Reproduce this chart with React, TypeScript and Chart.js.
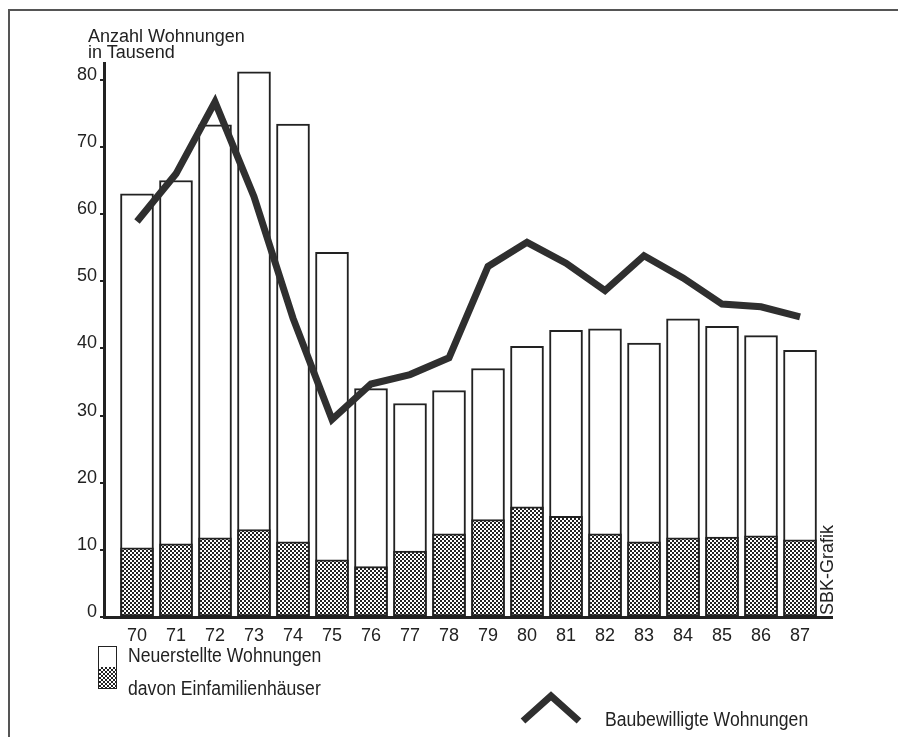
import React, { useEffect, useRef } from "react";
import { Chart, registerables } from "chart.js";

Chart.register(...registerables);

// ---- data ----
const YEARS = [70, 71, 72, 73, 74, 75, 76, 77, 78, 79, 80, 81, 82, 83, 84, 85, 86, 87];
const YEAR_LABELS = ["70", "71", "72", "73", "74", "75", "76", "77", "78", "79", "80", "81", "82", "83", "84", "85", "86", "87"];
const Y_TICKS = [0, 10, 20, 30, 40, 50, 60, 70, 80];
// Neuerstellte Wohnungen (Tausend)
const NEUERSTELLT = [63.0, 65.0, 73.3, 81.2, 73.4, 54.3, 34.0, 31.8, 33.7, 37.0, 40.3, 42.7, 42.9, 40.8, 44.4, 43.3, 41.9, 39.7];
// davon Einfamilienhäuser (Tausend)
const EINFAMILIEN = [10.3, 10.9, 11.8, 13.0, 11.2, 8.5, 7.5, 9.8, 12.4, 14.5, 16.4, 15.0, 12.4, 11.2, 11.8, 11.9, 12.1, 11.5];
// Baubewilligte Wohnungen (Tausend)
const BAUBEWILLIGT = [58.9, 66.0, 76.7, 62.6, 44.5, 29.4, 34.7, 36.1, 38.6, 52.2, 55.8, 52.7, 48.6, 53.8, 50.5, 46.6, 46.2, 44.7];

const INK = "#222222";
const FONT = "'Liberation Sans', Arial, sans-serif";
const HATCH_CSS = "repeating-conic-gradient(#222 0 25%, #fff 0 50%) 0 0 / 4px 4px";

function makePattern(ctx: CanvasRenderingContext2D): CanvasPattern | string {
  const pc = document.createElement("canvas");
  pc.width = 4;
  pc.height = 4;
  const g = pc.getContext("2d");
  if (!g) return "#777";
  g.fillStyle = "#ffffff";
  g.fillRect(0, 0, 4, 4);
  g.fillStyle = "#222222";
  g.fillRect(0, 0, 2, 2);
  g.fillRect(2, 2, 2, 2);
  return ctx.createPattern(pc, "repeat") || "#777";
}

const legendText: React.CSSProperties = {
  position: "absolute",
  fontFamily: FONT,
  fontSize: 20,
  lineHeight: "24px",
  whiteSpace: "nowrap",
  transform: "scaleX(0.88)",
  transformOrigin: "0 50%",
};

export default function App() {
  const canvasRef = useRef<HTMLCanvasElement | null>(null);

  useEffect(() => {
    const canvas = canvasRef.current;
    if (!canvas) return;
    const ctx = canvas.getContext("2d");
    if (!ctx) return;
    const hatch = makePattern(ctx);

    const chart = new Chart(ctx, {
      type: "bar",
      data: {
        datasets: [
          {
            type: "line",
            label: "Baubewilligte Wohnungen",
            data: YEARS.map((x, i) => ({ x, y: BAUBEWILLIGT[i] })),
            borderColor: "#2f2f2f",
            borderWidth: 7,
            pointRadius: 0,
            tension: 0,
            borderJoinStyle: "miter",
            borderCapStyle: "butt",
            order: 0,
          } as any,
          {
            type: "bar",
            label: "davon Einfamilienhäuser",
            data: YEARS.map((x, i) => ({ x, y: EINFAMILIEN[i] })),
            backgroundColor: hatch as any,
            borderColor: INK,
            borderWidth: 2,
            borderSkipped: false,
            barThickness: 33,
            grouped: false,
            order: 1,
          } as any,
          {
            type: "bar",
            label: "Neuerstellte Wohnungen",
            data: YEARS.map((x, i) => ({ x, y: NEUERSTELLT[i] })),
            backgroundColor: "#ffffff",
            borderColor: INK,
            borderWidth: 2,
            borderSkipped: false,
            barThickness: 33,
            grouped: false,
            order: 2,
          } as any,
        ],
      },
      options: {
        animation: false,
        responsive: false,
        maintainAspectRatio: false,
        layout: { padding: { left: 0, top: 63, right: 66, bottom: 0 } },
        plugins: {
          legend: { display: false },
          tooltip: { enabled: false },
        },
        scales: {
          x: {
            type: "linear",
            min: 69.154,
            max: 87.82,
            offset: false,
            afterBuildTicks: (axis: any) => {
              axis.ticks = YEARS.map((v) => ({ value: v }));
            },
            afterFit: (axis: any) => {
              axis.height = 120;
            },
            ticks: {
              autoSkip: false,
              maxRotation: 0,
              padding: 8,
              color: INK,
              font: { family: FONT, size: 18 },
              callback: (v: any) => {
                const i = YEARS.indexOf(Number(v));
                return i >= 0 ? YEAR_LABELS[i] : "";
              },
            },
            grid: { display: false, drawTicks: false },
            border: { display: true, color: INK, width: 3 },
          },
          y: {
            type: "linear",
            min: 0,
            max: 82.5,
            afterBuildTicks: (axis: any) => {
              axis.ticks = Y_TICKS.map((v) => ({ value: v }));
            },
            afterFit: (axis: any) => {
              axis.width = 104;
            },
            ticks: {
              padding: 3,
              labelOffset: -5,
              color: INK,
              font: { family: FONT, size: 18 },
              callback: (v: any) => String(v),
            },
            grid: {
              drawOnChartArea: false,
              drawTicks: true,
              tickLength: 4,
              color: INK,
              lineWidth: 2,
            },
            border: { display: true, color: INK, width: 3 },
          },
        },
      } as any,
    });

    return () => {
      chart.destroy();
    };
  }, []);

  return (
    <div
      style={{
        position: "absolute",
        left: 0,
        top: 0,
        width: 898,
        height: 737,
        background: "#fff",
        overflow: "hidden",
        fontFamily: FONT,
        color: INK,
      }}
    >
      {/* frame */}
      <div
        style={{
          position: "absolute",
          left: 8,
          top: 9,
          width: 900,
          height: 740,
          borderTop: "2px solid #555",
          borderLeft: "2px solid #555",
        }}
      />
      <canvas
        ref={canvasRef}
        width={898}
        height={737}
        style={{ position: "absolute", left: 0, top: 0, width: 898, height: 737 }}
      />
      {/* axis title */}
      <div
        style={{
          position: "absolute",
          left: 88,
          top: 28,
          fontSize: 18,
          lineHeight: "16px",
          whiteSpace: "nowrap",
        }}
      >
        Anzahl Wohnungen
        <br />
        in Tausend
      </div>
      {/* credit */}
      <div
        style={{
          position: "absolute",
          left: 827,
          top: 570,
          fontSize: 18,
          lineHeight: "18px",
          whiteSpace: "nowrap",
          transform: "translate(-50%, -50%) rotate(-90deg)",
        }}
      >
        SBK-Grafik
      </div>
      {/* legend */}
      <div
        style={{
          position: "absolute",
          left: 98,
          top: 646,
          width: 17,
          height: 20,
          border: "1.5px solid #222",
          borderBottom: "none",
          background: "#fff",
        }}
      />
      <div
        style={{
          position: "absolute",
          left: 98,
          top: 667,
          width: 17,
          height: 21,
          border: "1.5px solid #222",
          borderTop: "none",
          background: HATCH_CSS,
        }}
      />
      <div style={{ ...legendText, left: 128, top: 643 }}>Neuerstellte Wohnungen</div>
      <div style={{ ...legendText, left: 128, top: 676 }}>davon Einfamilienhäuser</div>
      <svg
        style={{ position: "absolute", left: 518, top: 690, overflow: "visible" }}
        width={66}
        height={36}
      >
        <polyline
          points="5,31 33,6 61,31"
          fill="none"
          stroke="#2f2f2f"
          strokeWidth={7}
          strokeLinejoin="miter"
          strokeLinecap="butt"
        />
      </svg>
      <div style={{ ...legendText, left: 605, top: 707 }}>Baubewilligte Wohnungen</div>
    </div>
  );
}
